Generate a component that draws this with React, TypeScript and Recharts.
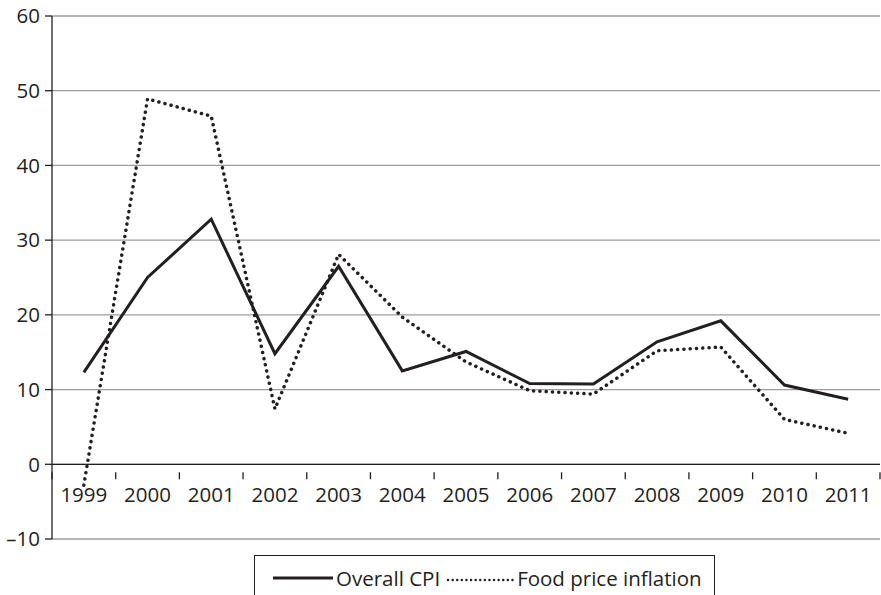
import React from 'react'
import { LineChart, Line, XAxis, YAxis, CartesianGrid, ReferenceLine, Legend } from 'recharts'

const years = ['1999', '2000', '2001', '2002', '2003', '2004', '2005', '2006', '2007', '2008', '2009', '2010', '2011']
const overallCpi = [12.3, 25.0, 32.8, 14.8, 26.5, 12.5, 15.1, 10.8, 10.75, 16.4, 19.2, 10.6, 8.7]
const foodInflation = [-2.8, 48.9, 46.6, 7.4, 28.1, 19.7, 13.7, 9.85, 9.4, 15.2, 15.7, 6.0, 4.15]
const yTicks = [-10, 0, 10, 20, 30, 40, 50, 60]

const data = years.map((year, i) => ({ year, cpi: overallCpi[i], food: foodInflation[i] }))

const W = 881
const H = 595
const xAxisHeight = 30
const margin = { top: 16, right: 1, left: 0, bottom: 26 }
const yAxisWidth = 52
const yMin = -10
const yMax = 60
const ink = '#231f20'
const font = '"Open Sans", sans-serif'

const plotW = W - margin.left - margin.right - yAxisWidth
const plotH = H - margin.top - margin.bottom - xAxisHeight
const band = plotW / years.length
// distance from the bottom of the plot up to the zero line
const zeroLift = (plotH * (0 - yMin)) / (yMax - yMin)

const YearTick = (props: any) => {
  const { x, y, payload, index } = props
  const zy = y - zeroLift
  return (
    <g>
      <line x1={x - band / 2} x2={x - band / 2} y1={zy} y2={zy + 7} stroke={ink} strokeWidth={1.3} />
      {index === years.length - 1 && (
        <line x1={x + band / 2} x2={x + band / 2} y1={zy} y2={zy + 7} stroke={ink} strokeWidth={1.3} />
      )}
      <text x={x} y={zy + 30} textAnchor="middle" fill={ink} fontSize={20.5} fontFamily={font}>
        {payload.value}
      </text>
    </g>
  )
}

const LegendBox = () => (
  <div
    style={{
      border: `1.3px solid ${ink}`,
      width: 461,
      height: 50,
      boxSizing: 'border-box',
      display: 'flex',
      alignItems: 'flex-start',
      paddingTop: 8,
      paddingLeft: 17,
      fontFamily: font,
      fontSize: 20.5,
      color: ink,
      whiteSpace: 'nowrap',
    }}
  >
    <svg width={62} height={24} style={{ marginRight: 2 }}>
      <line x1={1} x2={61} y1={14} y2={14} stroke={ink} strokeWidth={3} />
    </svg>
    <span>Overall CPI</span>
    <svg width={70} height={24} style={{ marginLeft: 6, marginRight: 1 }}>
      <line x1={2} x2={68} y1={16} y2={16} stroke={ink} strokeWidth={2.4} strokeDasharray="0.1 4.5" strokeLinecap="round" />
    </svg>
    <span>Food price inflation</span>
  </div>
)

export default function App() {
  return (
    <div style={{ position: 'absolute', left: 0, top: 0, width: W, height: H, background: '#fff' }}>
      <LineChart width={W} height={H} data={data} margin={margin}>
        <CartesianGrid horizontal vertical={false} stroke="#9c9c9c" strokeWidth={1.3} />
        <XAxis
          dataKey="year"
          scale="band"
          height={xAxisHeight}
          axisLine={false}
          tickLine={false}
          tick={<YearTick />}
          interval={0}
        />
        <YAxis
          width={yAxisWidth}
          domain={[yMin, yMax]}
          ticks={yTicks}
          interval={0}
          axisLine={{ stroke: ink, strokeWidth: 1.3 }}
          tickLine={{ stroke: ink, strokeWidth: 1.3 }}
          tickSize={7}
          tickMargin={5}
          tick={{ fill: ink, fontSize: 20.5, fontFamily: font }}
          tickFormatter={(v: number) => (v < 0 ? `–${Math.abs(v)}` : `${v}`)}
        />
        <ReferenceLine y={0} stroke={ink} strokeWidth={1.3} />
        <Line
          type="linear"
          dataKey="cpi"
          name="Overall CPI"
          stroke={ink}
          strokeWidth={3}
          dot={false}
          isAnimationActive={false}
        />
        <Line
          type="linear"
          dataKey="food"
          name="Food price inflation"
          stroke={ink}
          strokeWidth={3.5}
          strokeDasharray="0.1 6.2"
          strokeLinecap="round"
          dot={false}
          isAnimationActive={false}
        />
        <Legend
          layout="horizontal"
          verticalAlign="middle"
          align="center"
          content={<LegendBox />}
          wrapperStyle={{ left: 254, top: 555, width: 461, height: 50 }}
        />
      </LineChart>
    </div>
  )
}
